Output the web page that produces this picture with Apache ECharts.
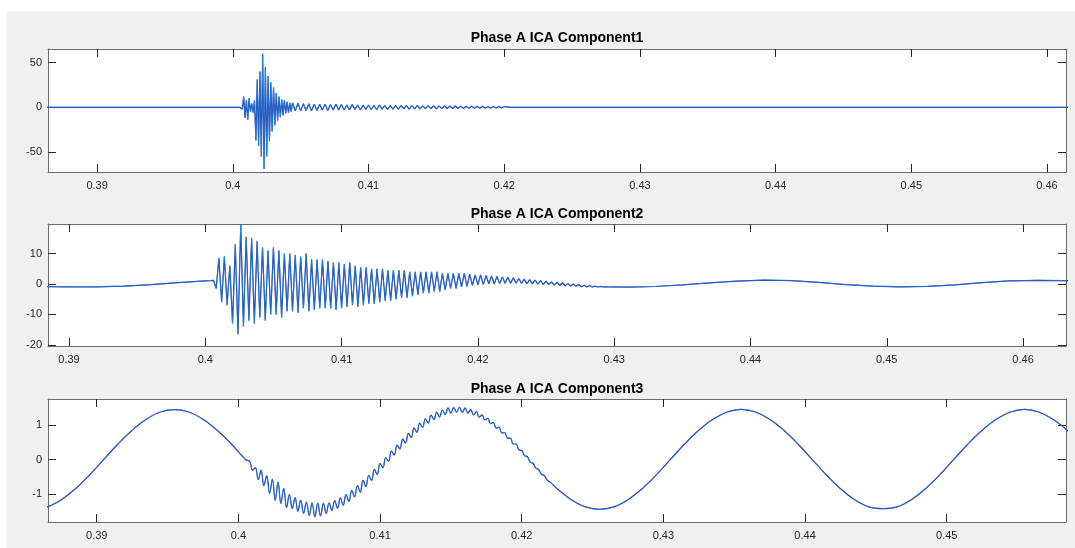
<!DOCTYPE html>
<html>
<head>
<meta charset="utf-8">
<script src="https://cdn.jsdelivr.net/npm/echarts@6/dist/echarts.min.js"></script>
<style>
html, body { margin: 0; padding: 0; background: #fff; }
#wrap { position: relative; width: 1075px; height: 548px; }
#bg { position: absolute; left: 7px; top: 11px; width: 1068px; height: 537px; background: #f0f0f0; }
#main { position: absolute; left: 0; top: 0; width: 1075px; height: 548px; }
</style>
</head>
<body>
<div id="wrap"><div id="bg"></div><div id="main"></div></div>
<script>
var titles = ['Phase A ICA Component1', 'Phase A ICA Component2', 'Phase A ICA Component3'];
var xTicks12 = [0.39, 0.40, 0.41, 0.42, 0.43, 0.44, 0.45, 0.46];
var xTicks3 = [0.39, 0.40, 0.41, 0.42, 0.43, 0.44, 0.45];
var yTicks1 = [-50, 0, 50];
var yTicks2 = [-20, -10, 0, 10];
var yTicks3 = [-1, 0, 1];

// component 1
var c1PreTime = [0.3860];
var c1PreVal = [0];
var c1BurstStart = 0.4005, c1BurstStep = 0.0001;
var c1Burst = [0, 1, -2, 12, -12, 8, -14, 10, -5, 4, -6, 8, -37, 31, -43, 40, -55, 60, -69, 45,
    -55, 35, -38, 28, -27, 22, -20, 16, -15, 12, -11, 9, -9, 8, -7, 6, -6, 5, -5];
var c1TailStart = 0.4044, c1TailStep = 0.0002;
var c1Tail = [5, -4, 4.5, -4, 4, -3.5, 4, -4, 3.5,
    -3.5, 3.5, -3, 3.5, -3.5, 3, -3, 3.5, -3, 3,
    -3, 2.5, -3, 3, -2.5, 2.5, -3, 2.5, -2.5, 2.5,
    -2.5, 2, -2.5, 2.5, -2, 2, -2.5, 2, -2, 2,
    -2, 2, -1.8, 2, -2, 1.8, -1.8, 2, -1.8, 1.6,
    -1.6, 1.8, -1.6, 1.5, -1.6, 1.5, -1.5, 1.6, -1.4, 1.4,
    -1.4, 1.5, -1.3, 1.3, -1.4, 1.2, -1.2, 1.3, -1.1, 1.1,
    -1.1, 1.2, -1, 1, -1, 0.9, -0.9, 1, -0.8, 0.8];
var c1PostTime = [0.4205, 0.4620];
var c1PostVal = [0, 0];

// component 2
var c2PreTime = [0.3880, 0.3900, 0.3920, 0.3940, 0.3960, 0.3980, 0.4000, 0.4004, 0.4006];
var c2PreVal = [-0.85, -0.95, -0.95, -0.75, -0.25, 0.4, 1.0, 1.1, 1.2];
var c2BurstStart = 0.4008, c2BurstStep = 0.0002;
var c2Burst = [-1.5,
    8.5, -6, 9, -7, 6,
    -13, 13, -16.5, 19.5, -14,
    15.5, -12, 15, -13, 14,
    -11, 12, -12, 11, -10,
    12, -10, 11, -11, 10,
    -9, 10, -9, 9.5, -9.5,
    9, -8, 10, -9, 8,
    -8.5, 8, -8, 8, -8,
    7.5, -8, 7, -8.5, 7,
    -8, 6.5, -7.5, 7, -7,
    6, -7.5, 5.5, -7, 5.5,
    -6.5, 5, -6.5, 5, -6,
    5, -5.5, 4.5, -5.5, 4.5,
    -5, 4.5, -4.5, 4.5, -4.5,
    4, -4, 4, -3.5, 4,
    -3, 4, -3, 4, -2.5,
    4, -2.5, 3.5, -2, 3.5,
    -1.5, 3.5, -1.5, 3.5, -1,
    3.5, -0.8, 3.2, -0.5, 3,
    -0.3, 3, -0.2, 2.8, 0,
    2.6, 0, 2.5, 0.1, 2.3,
    0.2, 2.2, 0.2, 2, 0.2,
    1.8, 0.2, 1.6, 0.1, 1.4,
    0, 1.3, -0.1, 1.1, -0.2,
    0.9, -0.2, 0.7, -0.4, 0.5,
    -0.5, 0.4, -0.6, 0.2, -0.7,
    0, -0.8, -0.2, -0.9, -0.4,
    -1.0, -0.5, -1.0, -0.7, -1.0,
    -0.8, -1.0, -0.9, -1.0, -0.95];
var c2PostTime = [0.431, 0.433, 0.435, 0.437, 0.439, 0.441, 0.443, 0.445, 0.447, 0.449,
    0.451, 0.453, 0.455, 0.457, 0.459, 0.461, 0.463, 0.464];
var c2PostVal = [-1.05, -0.85, -0.3, 0.35, 0.95, 1.25, 1.1, 0.5, -0.2, -0.75,
    -0.95, -0.8, -0.3, 0.4, 1.0, 1.2, 1.1, 1.0];

// component 3
var c3PreStart = 0.3855, c3PreStep = 0.001;
var c3Pre = [-1.45, -1.38, -1.17, -0.85, -0.45, 0, 0.45, 0.85, 1.17, 1.38, 1.45, 1.38, 1.17, 0.85, 0.45, 0];
var c3BurstStart = 0.4008, c3BurstStep = 0.0002;
var c3Burst = [-0.06, -0.31, -0.24, -0.59, -0.31, -0.76, -0.48, -0.99, -0.57, -1.19,
    -0.66, -1.28, -0.84, -1.40, -1.02, -1.43, -1.11, -1.51, -1.18, -1.57,
    -1.24, -1.63, -1.26, -1.67, -1.27, -1.64, -1.28, -1.57, -1.26, -1.49,
    -1.20, -1.42, -1.12, -1.33, -1.02, -1.22, -0.90, -1.09, -0.76, -0.95,
    -0.61, -0.79, -0.46, -0.61, -0.29, -0.44, -0.11, -0.24, 0.05, -0.05,
    0.24, 0.13, 0.42, 0.31, 0.59, 0.48, 0.76, 0.64, 0.92, 0.79,
    1.06, 0.93, 1.18, 1.06, 1.29, 1.16, 1.38, 1.24, 1.44, 1.31,
    1.50, 1.35, 1.51, 1.38, 1.52, 1.37, 1.50, 1.35, 1.45, 1.30,
    1.39, 1.23, 1.30, 1.15, 1.20, 1.04, 1.08, 0.91, 0.94, 0.77,
    0.78, 0.62, 0.62, 0.45, 0.45, 0.28, 0.26, 0.11, 0.08, -0.08,
    -0.11, -0.25, -0.30, -0.43, -0.47, -0.60, -0.66];
var c3PostStart = 0.4225, c3PostStep = 0.001;
var c3Post = [-0.85, -1.17, -1.38, -1.45, -1.38, -1.17, -0.85, -0.45, 0, 0.45,
    0.85, 1.17, 1.38, 1.46, 1.38, 1.17, 0.85, 0.45, 0, -0.45,
    -0.85, -1.17, -1.38, -1.43, -1.38, -1.17, -0.85, -0.45, 0, 0.45,
    0.85, 1.17, 1.38, 1.46, 1.38, 1.17, 0.85, 0.45];

function pairs(times, vals) {
    var out = [];
    for (var i = 0; i < times.length; i++) out.push([times[i], vals[i]]);
    return out;
}
function run(start, step, vals) {
    var out = [];
    for (var i = 0; i < vals.length; i++) out.push([+(start + i * step).toFixed(5), vals[i]]);
    return out;
}

var data1 = pairs(c1PreTime, c1PreVal)
    .concat(run(c1BurstStart, c1BurstStep, c1Burst))
    .concat(run(c1TailStart, c1TailStep, c1Tail))
    .concat(pairs(c1PostTime, c1PostVal));
var data2 = pairs(c2PreTime, c2PreVal)
    .concat(run(c2BurstStart, c2BurstStep, c2Burst))
    .concat(pairs(c2PostTime, c2PostVal));
var data3 = run(c3PreStart, c3PreStep, c3Pre)
    .concat(run(c3BurstStart, c3BurstStep, c3Burst))
    .concat(run(c3PostStart, c3PostStep, c3Post));

var panels = [
    {top: 49, height: 123, xmin: 0.38638, xmax: 0.4614, ymin: -72.4, ymax: 65.2, xt: xTicks12, yt: yTicks1, data: data1, titleY: 38, smooth: false},
    {top: 224, height: 122, xmin: 0.38846, xmax: 0.46315, ymin: -20.4, ymax: 19.7, xt: xTicks12, yt: yTicks2, data: data2, titleY: 214, smooth: false},
    {top: 399, height: 123, xmin: 0.38656, xmax: 0.45842, ymin: -1.82, ymax: 1.76, xt: xTicks3, yt: yTicks3, data: data3, titleY: 389, smooth: 0.4}
];

var lineCol = '#6b6b6b', tickCol = '#262626', font = 'Arial, "Liberation Sans", sans-serif';
var grids = [], xAxes = [], yAxes = [], series = [], graphics = [];

panels.forEach(function (p, i) {
    grids.push({left: 48, right: 9, top: p.top, height: p.height, show: true,
        backgroundColor: '#fff', borderWidth: 0});
    ['bottom', 'top'].forEach(function (pos) {
        xAxes.push({
            gridIndex: i, type: 'value', position: pos, min: p.xmin, max: p.xmax,
            axisLine: {show: true, onZero: false, lineStyle: {color: lineCol, width: 1}},
            axisTick: {show: true, inside: true, length: 8, customValues: p.xt, lineStyle: {color: tickCol}},
            axisLabel: {show: pos === 'bottom', customValues: p.xt, margin: 8, fontSize: 11,
                color: tickCol, fontFamily: font,
                formatter: function (v) { return String(+v.toFixed(2)); }},
            splitLine: {show: false}
        });
    });
    ['left', 'right'].forEach(function (pos) {
        yAxes.push({
            gridIndex: i, type: 'value', position: pos, min: p.ymin, max: p.ymax,
            axisLine: {show: true, onZero: false, lineStyle: {color: lineCol, width: 1}},
            axisTick: {show: true, inside: true, length: 8, customValues: p.yt, lineStyle: {color: tickCol}},
            axisLabel: {show: pos === 'left', customValues: p.yt, margin: 6, fontSize: 11,
                color: tickCol, fontFamily: font,
                formatter: function (v) { return String(+v.toFixed(2)); }},
            splitLine: {show: false}
        });
    });
    series.push({
        type: 'line', xAxisIndex: i * 2, yAxisIndex: i * 2, data: p.data,
        showSymbol: false, symbol: 'none', clip: true, smooth: p.smooth,
        lineStyle: {color: '#1a1fa8', width: 1.2}
    });
    series.push({
        type: 'line', xAxisIndex: i * 2, yAxisIndex: i * 2, data: p.data,
        showSymbol: false, symbol: 'none', clip: true, smooth: p.smooth,
        lineStyle: {color: '#25a0e4', width: 0.7, opacity: 0.85}
    });
    graphics.push({
        type: 'text', x: 557, y: p.titleY,
        style: {text: titles[i], fill: '#000', font: 'bold 14px ' + font,
            textAlign: 'center', textVerticalAlign: 'middle'}
    });
});

var myChart = echarts.init(document.getElementById('main'));
myChart.setOption({
    animation: false,
    backgroundColor: 'transparent',
    grid: grids,
    xAxis: xAxes,
    yAxis: yAxes,
    series: series,
    graphic: graphics
});
</script>
</body>
</html>
